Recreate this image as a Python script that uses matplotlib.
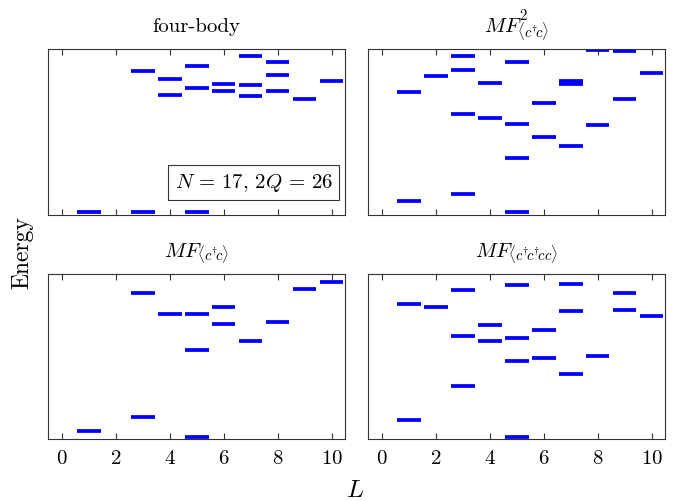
import numpy as np
import matplotlib
matplotlib.use("Agg")
import matplotlib.pyplot as plt

plt.rcParams['font.family'] = ['cmr10', 'DejaVu Serif']
plt.rcParams['mathtext.fontset'] = 'cm'
plt.rcParams['axes.formatter.use_mathtext'] = True

# spectra (arbitrary energy units), one list of (L, E) per panel
four_body_L = [1, 3, 5, 3, 4, 4, 5, 5, 6, 6, 7, 7, 7, 8, 8, 8, 9, 10]
four_body_E = [1.8, 1.8, 1.8, 86.7, 81.8, 72.5, 89.9, 76.6, 79.2, 74.5,
               96.2, 78.6, 71.5, 92.1, 84.2, 74.7, 69.9, 80.6]

mf2_L = [1, 1, 2, 3, 3, 3, 3, 4, 4, 5, 5, 5, 5, 6, 6, 7, 7, 7, 8, 8, 9, 9, 10]
mf2_E = [74.1, 8.5, 83.6, 96.0, 87.7, 60.6, 12.3, 79.8, 58.6, 92.5, 54.9,
         34.1, 1.5, 67.7, 47.1, 80.8, 78.9, 41.6, 99.8, 54.3, 98.8, 69.9, 85.5]

mf_L = [1, 3, 3, 4, 5, 5, 5, 6, 6, 7, 8, 9, 10]
mf_E = [4.6, 88.5, 13.5, 75.5, 75.5, 54.1, 1.5, 79.9, 69.4, 59.2, 71.0,
        90.7, 95.2]

mf4_L = [1, 1, 2, 3, 3, 3, 4, 4, 5, 5, 5, 5, 6, 6, 7, 7, 7, 8, 9, 9, 10]
mf4_E = [81.7, 11.5, 80.1, 90.0, 62.4, 32.2, 69.2, 59.0, 93.0, 61.2, 47.3,
         1.5, 65.8, 48.9, 94.0, 77.3, 39.6, 50.3, 88.3, 78.1, 74.6]

panels = [
    ("four-body", four_body_L, four_body_E),
    (r"$MF^2_{\langle c^{\dagger}\!c\rangle}$", mf2_L, mf2_E),
    (r"$MF_{\langle c^{\dagger}\!c\rangle}$", mf_L, mf_E),
    (r"$MF_{\langle c^{\dagger}\!c^{\dagger}\!cc\rangle}$", mf4_L, mf4_E),
]

fig = plt.figure(figsize=(6.84, 5.02), dpi=100)
lefts = [0.0706, 0.5385]
bottoms = [0.5703, 0.1235]
w, h = 0.4338, 0.3295

for i, (title, L, E) in enumerate(panels):
    row, col = divmod(i, 2)
    ax = fig.add_axes([lefts[col], bottoms[row], w, h])
    L = np.array(L)
    ax.hlines(E, L - 0.44, L + 0.44, color='blue', lw=2.7)
    ax.set_xlim(-0.5, 10.5)
    ax.set_ylim(0, 100)
    ax.set_yticks([])
    ax.set_xticks([0, 2, 4, 6, 8, 10])
    ax.tick_params(axis='x', direction='in', top=True, length=4, pad=7,
                   labelsize=15, color='#333333')
    if row == 0:
        ax.tick_params(axis='x', labelbottom=False)
    for sp in ax.spines.values():
        sp.set_color('#333333')
    ax.set_title(title, fontsize=15, pad=13)
    if i == 0:
        ax.text(0.692, 0.195, r"$N\,=\,17,\,2Q\,=\,26$", transform=ax.transAxes,
                ha='center', va='center', fontsize=15,
                bbox=dict(boxstyle='square,pad=0.3', fc='white', ec='#333333',
                          lw=0.8))

fig.text(0.032, 0.496, "Energy", rotation=90, ha='center', va='center',
         fontsize=17)
fig.text(0.519, 0.022, r"$L$", ha='center', va='center', fontsize=18)

fig.savefig("out.png", dpi=100)
